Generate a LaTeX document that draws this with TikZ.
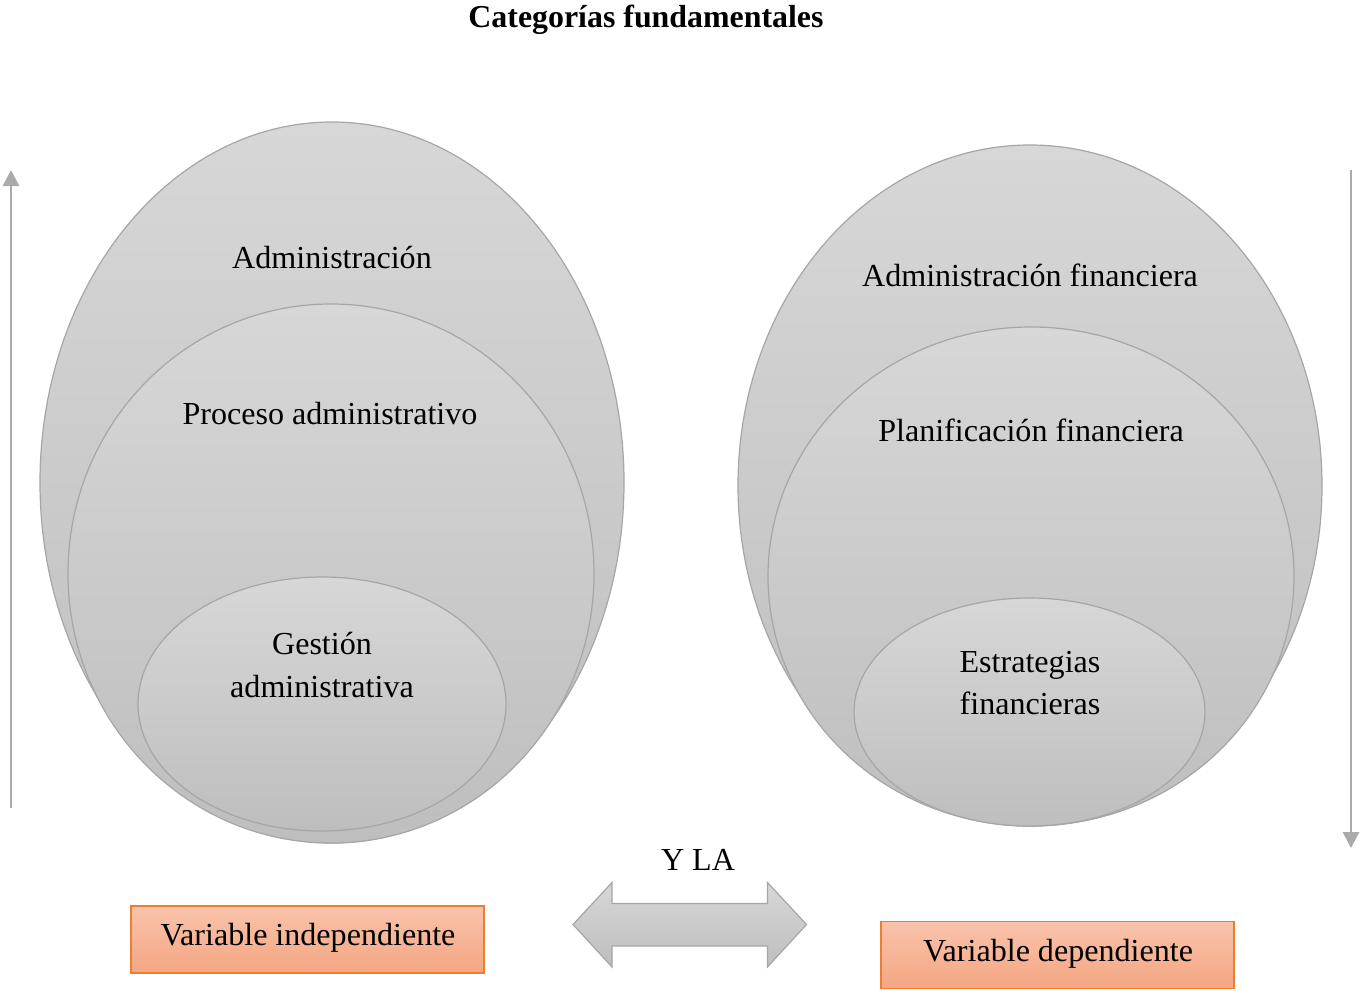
\documentclass[tikz,border=0pt]{standalone}
\usepackage{fontspec}
\setmainfont{Liberation Serif}
\usetikzlibrary{shapes.geometric,arrows.meta}
\definecolor{ringtop}{RGB}{215,215,215}
\definecolor{ringbot}{RGB}{190,190,190}
\definecolor{ringline}{RGB}{166,166,166}
\definecolor{boxtop}{RGB}{249,195,171}
\definecolor{boxbot}{RGB}{244,166,130}
\definecolor{boxline}{RGB}{237,125,49}
\definecolor{axisgray}{RGB}{170,170,170}
\tikzset{
  ring/.style={ellipse, inner sep=0pt, outer sep=0pt, draw=ringline, line width=1.2bp,
    top color=ringtop, bottom color=ringbot},
  label/.style={font=\fontsize{32.2}{43}\selectfont, align=center, inner sep=0pt},
  varbox/.style={rectangle, draw=boxline, line width=1.5bp, top color=boxtop, bottom color=boxbot,
    minimum width=353bp, minimum height=67bp, inner sep=0pt},
  axis/.style={draw=axisgray, line width=2.8bp, -{Triangle[width=16bp,length=16bp]}},
}
\begin{document}
\begin{tikzpicture}[x=1bp,y=1bp]
\useasboundingbox (0,0) rectangle (1360,-990);

% title
\node[label, font=\bfseries\fontsize{32}{43}\selectfont] (title) at (646,-20) {Categorías fundamentales};

% left nested ellipses
\node[ring, minimum width=584bp, minimum height=721bp] (lout) at (332,-482.5) {};
\node[ring, minimum width=526bp, minimum height=539bp] (lmid) at (331,-573.5) {};
\node[ring, minimum width=368bp, minimum height=254bp] (lin) at (322,-704) {};
\node[label] (t1) at (332,-257) {Administración};
\node[label] (t2) at (330,-414) {Proceso administrativo};
\node[label] (t3) at (322,-665) {Gestión\\administrativa};

% right nested ellipses
\node[ring, minimum width=584bp, minimum height=681bp] (rout) at (1030,-485.5) {};
\node[ring, minimum width=526bp, minimum height=499bp] (rmid) at (1031,-576.5) {};
\node[ring, minimum width=351bp, minimum height=228bp] (rin) at (1029.5,-712) {};
\node[label] (u1) at (1030,-275) {Administración financiera};
\node[label] (u2) at (1031,-430) {Planificación financiera};
\node[label] (u3) at (1030,-683) {Estrategias\\financieras};

% direction arrows at the sides
\coordinate (la) at (11,-808);
\coordinate (lb) at (11,-170);
\coordinate (ra) at (1351,-170);
\coordinate (rb) at (1351,-848);
\draw[axis] (la) -- (lb);
\draw[axis] (ra) -- (rb);

% variable boxes
\node[varbox] (vi) at (307.5,-939.5) {};
\node[label] (vitext) at (308,-938) {Variable independiente};
\node[varbox] (vd) at (1057.5,-955) {};
\node[label] (vdtext) at (1058,-954) {Variable dependiente};

% link between the two variables
\node[label] (yla) at (698,-860) {Y LA};
\shade[top color=ringtop, bottom color=ringbot, draw=ringline, line width=1.2bp]
  (573,-924.5) -- (612,-882.5) -- (612,-903.5) -- (767.5,-903.5) -- (767.5,-882.5)
  -- (806.5,-924.5) -- (767.5,-967) -- (767.5,-946) -- (612,-946) -- (612,-967) -- cycle;
\end{tikzpicture}
\end{document}
